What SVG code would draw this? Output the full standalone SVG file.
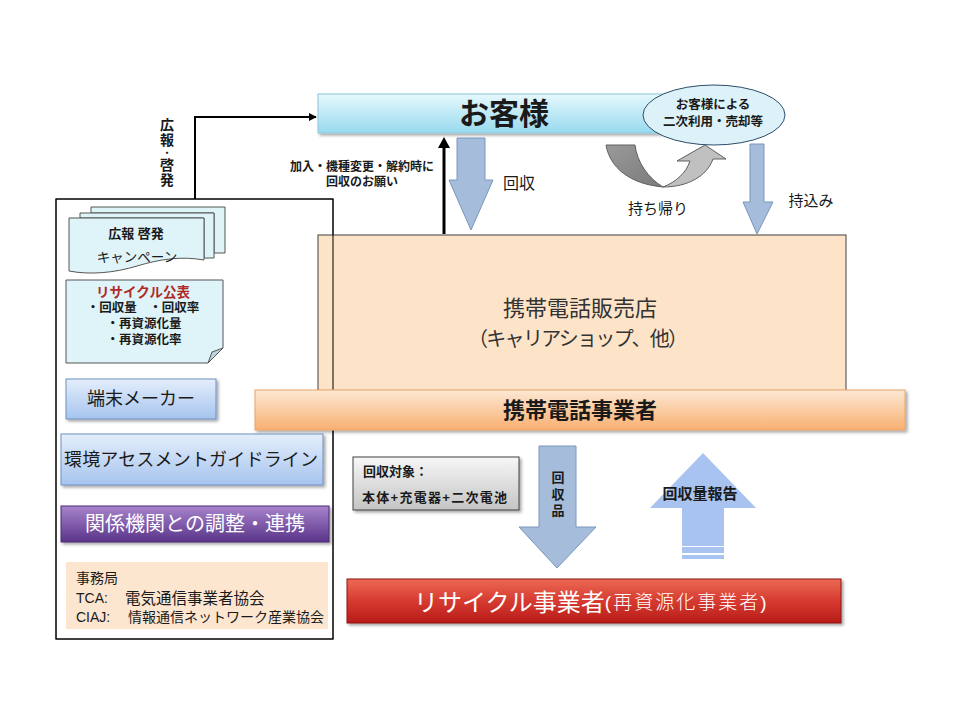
<svg xmlns="http://www.w3.org/2000/svg" width="960" height="720" viewBox="0 0 960 720">
<defs>
<style>
text{font-family:"Liberation Sans","Noto Sans CJK JP",sans-serif;fill:#1a1a1a;dominant-baseline:central}
.b{font-weight:bold}
.c{text-anchor:middle}
.w{fill:#ffffff}
.blk{fill:#a5bddb;stroke:#7a96bd;stroke-width:1}
</style>
<linearGradient id="gCust" x1="0" y1="0" x2="0" y2="1"><stop offset="0" stop-color="#e6f8fd"/><stop offset="1" stop-color="#98daee"/></linearGradient>
<linearGradient id="gBar" x1="0" y1="0" x2="0" y2="1"><stop offset="0" stop-color="#fde8d4"/><stop offset="1" stop-color="#f8b070"/></linearGradient>
<linearGradient id="gBlue" x1="0" y1="0" x2="0" y2="1"><stop offset="0" stop-color="#e4eefb"/><stop offset="1" stop-color="#a6c4ee"/></linearGradient>
<linearGradient id="gPurple" x1="0" y1="0" x2="0" y2="1"><stop offset="0" stop-color="#a784cc"/><stop offset="1" stop-color="#5a3489"/></linearGradient>
<linearGradient id="gRed" x1="0" y1="0" x2="0" y2="1"><stop offset="0" stop-color="#ec6a55"/><stop offset="0.5" stop-color="#d63a30"/><stop offset="1" stop-color="#b81c18"/></linearGradient>
<linearGradient id="gGrey" x1="0" y1="0" x2="0" y2="1"><stop offset="0" stop-color="#f7f7f7"/><stop offset="1" stop-color="#c4c4c4"/></linearGradient>
<linearGradient id="gDark" x1="0" y1="0" x2="1" y2="1"><stop offset="0" stop-color="#9a9a9a"/><stop offset="1" stop-color="#7a7a7a"/></linearGradient>
<filter id="sh" x="-10%" y="-20%" width="130%" height="160%"><feDropShadow dx="2" dy="2" stdDeviation="1.5" flood-color="#000" flood-opacity="0.35"/></filter>
<marker id="ah" viewBox="0 0 10 10" refX="9" refY="5" markerWidth="4" markerHeight="4" orient="auto" markerUnits="strokeWidth"><path d="M0,0 L10,5 L0,10 Z" fill="#000"/></marker>
</defs>
<rect width="960" height="720" fill="#ffffff"/>

<g id="panel-bg"><rect x="56" y="199" width="277" height="440" fill="#ffffff" stroke="#000" stroke-width="1"/></g>

<g id="customer">
<rect x="318" y="94" width="385" height="39" fill="url(#gCust)" stroke="#8cc5dc" stroke-width="1" filter="url(#sh)"/>
<text class="c b" x="504" y="113" font-size="30">お客様</text>
</g>

<g id="secondary-use">
<ellipse cx="714" cy="115" rx="71" ry="30" fill="#dcf1f8" stroke="#2c4e6b" stroke-width="1"/>
<text class="c b" x="713" y="105" font-size="12.5">お客様による</text>
<text class="c b" x="713" y="122" font-size="12.5">二次利用・売却等</text>
</g>

<g id="store">
<rect x="318" y="235" width="528" height="165" fill="#fde4c9" stroke="#404040" stroke-width="1"/>
<text class="c" x="580" y="308" font-size="22" style="fill:#333">携帯電話販売店</text>
<text class="c" x="578" y="339" font-size="20" textLength="220" style="fill:#333">（キャリアショップ、他）</text>
</g>

<g id="panel-border"><rect x="56" y="199" width="277" height="440" fill="none" stroke="#000" stroke-width="1"/></g>

<g id="carrier">
<rect x="255" y="390" width="650" height="40" fill="url(#gBar)" stroke="#eaa468" stroke-width="1" filter="url(#sh)"/>
<text class="c b" x="580" y="410" font-size="22">携帯電話事業者</text>
</g>

<g id="campaign">
<path d="M91,207 H225 V253 H214 V213 H91 Z" fill="#dff4f8" stroke="#555" stroke-width="1"/>
<path d="M80,213 H214 V258 H204 V218 H80 Z" fill="#dff4f8" stroke="#555" stroke-width="1"/>
<path d="M69,218 H204 V260 C182,256 160,259 137,266 C114,273 90,275 69,271 Z" fill="#dff4f8" stroke="#555" stroke-width="1"/>
<text class="c b" x="136" y="233" font-size="13">広報 啓発</text>
<text class="c" x="137" y="257" font-size="13.5">キャンペーン</text>
</g>

<g id="recycle-publish">
<path d="M66,280 H223 V348 L208,363 H66 Z" fill="#dff4f8" stroke="#555" stroke-width="1"/>
<path d="M208,363 L212,352 L223,348 Z" fill="#b9d6dc" stroke="#555" stroke-width="1"/>
<text class="c b" x="143" y="292" font-size="13.5" style="fill:#b02a2a">リサイクル公表</text>
<text class="c b" x="143" y="308" font-size="12.5">・回収量　・回収率</text>
<text class="c b" x="144" y="324" font-size="12.5">・再資源化量</text>
<text class="c b" x="144" y="340" font-size="12.5">・再資源化率</text>
</g>

<g id="maker">
<rect x="66" y="379" width="150" height="40" fill="url(#gBlue)" stroke="#6f8fbf" stroke-width="1" filter="url(#sh)"/>
<text class="c" x="141" y="399" font-size="18">端末メーカー</text>
</g>

<g id="guideline">
<rect x="61" y="434" width="262" height="51" fill="url(#gBlue)" stroke="#6f8fbf" stroke-width="1" filter="url(#sh)"/>
<text class="c" x="191" y="460" font-size="18" textLength="254">環境アセスメントガイドライン</text>
</g>

<g id="coordination">
<rect x="61" y="506" width="268" height="36" fill="url(#gPurple)" stroke="#4a2a75" stroke-width="1" filter="url(#sh)"/>
<text class="c w" x="195" y="524" font-size="20">関係機関との調整・連携</text>
</g>

<g id="secretariat">
<rect x="66" y="562" width="262" height="67" fill="#fde6d0"/>
<text x="76" y="578" font-size="14">事務局</text>
<text x="76" y="598" font-size="14">TCA:</text>
<text x="125" y="598" font-size="15.5">電気通信事業者協会</text>
<text x="76" y="617" font-size="14">CIAJ:</text>
<text x="128" y="617" font-size="14" textLength="196">情報通信ネットワーク産業協会</text>
</g>

<g id="targets">
<rect x="353" y="457" width="166" height="53" fill="url(#gGrey)" stroke="#404040" stroke-width="1" filter="url(#sh)"/>
<text class="b" x="363" y="471" font-size="13">回収対象：</text>
<text class="b" x="362" y="497" font-size="13" textLength="145">本体+充電器+二次電池</text>
</g>

<g id="recycler">
<rect x="347" y="579" width="494" height="44" fill="url(#gRed)" stroke="#8e1512" stroke-width="1" filter="url(#sh)"/>
<text class="w" x="414" y="602" font-size="24">リサイクル事業者<tspan font-size="19" font-weight="300" letter-spacing="2">(再資源化事業者)</tspan></text>
</g>

<g id="connectors">
<path d="M195,199 V117 H316" fill="none" stroke="#000" stroke-width="2" marker-end="url(#ah)"/>
<text class="c b" x="167" y="125" font-size="14">広</text>
<text class="c b" x="167" y="140" font-size="14">報</text>
<text class="c b" x="167" y="153" font-size="9">・</text>
<text class="c b" x="167" y="165" font-size="14">啓</text>
<text class="c b" x="167" y="180" font-size="14">発</text>

<path d="M444,234 V146" fill="none" stroke="#000" stroke-width="3"/>
<path d="M438,148 L444,137 L450,148 Z" fill="#000"/>
<text class="c b" x="362" y="167" font-size="12">加入・機種変更・解約時に</text>
<text class="c b" x="362" y="182" font-size="12">回収のお願い</text>

<path class="blk" d="M457,138 H485 V180 H493 L471,230 L449,180 H457 Z"/>
<text class="c" x="519" y="183" font-size="16">回収</text>

<path d="M606,145 H635 C637,162 648,178 663,187 C630,184 610,168 606,145 Z" fill="url(#gDark)" stroke="#606060" stroke-width="1"/>
<path d="M663,187 C676,182 686,173 690,161 H677 L705,145 L726,159 H713 C707,176 688,187 663,187 Z" fill="#c0c0c0" stroke="#606060" stroke-width="1"/>
<text class="c" x="658" y="208" font-size="15">持ち帰り</text>

<path class="blk" d="M750,144 H764 V202 H773 L757,234 L743,202 H750 Z"/>
<text class="c" x="811" y="200" font-size="15">持込み</text>

<path class="blk" d="M539,446 H576 V527 H596 L557,568 L519,527 H539 Z"/>
<text class="c b" x="558" y="477" font-size="13">回</text>
<text class="c b" x="558" y="494" font-size="13">収</text>
<text class="c b" x="558" y="510" font-size="13">品</text>

<path d="M703,453 L756,508 H724 V546 H682 V508 H650 Z" fill="#a9c3f0"/>
<rect x="682" y="547" width="42" height="6" fill="#a9c3f0"/>
<rect x="682" y="555" width="42" height="4" fill="#a9c3f0"/>
<text class="c b" x="700" y="493" font-size="15">回収量報告</text>
</g>
</svg>
